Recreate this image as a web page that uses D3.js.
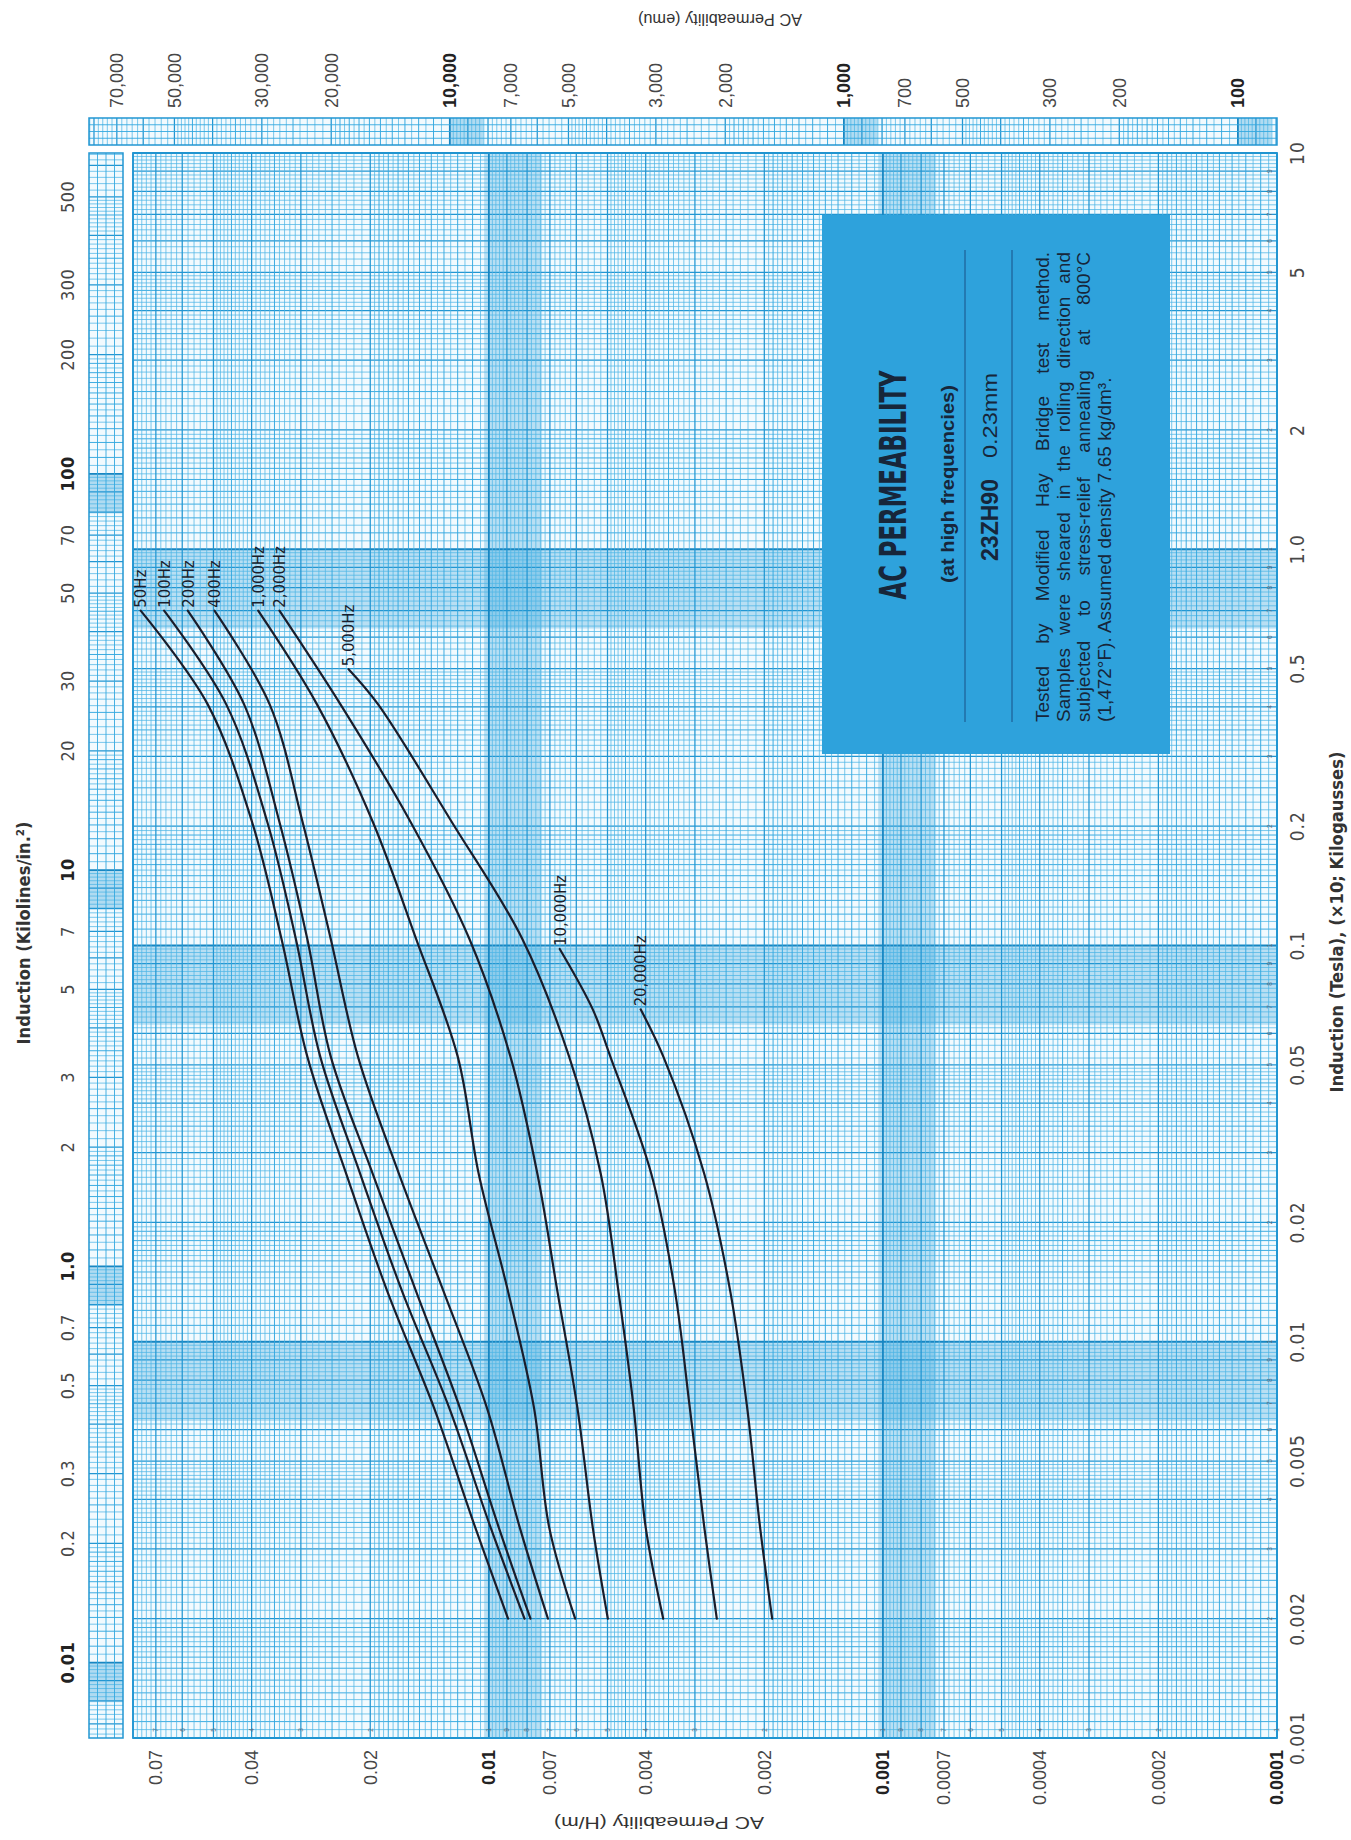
<!DOCTYPE html>
<html><head><meta charset="utf-8">
<script src="https://cdn.jsdelivr.net/npm/d3@7"></script>
<style>
html,body{margin:0;padding:0;background:#fff;}
svg{display:block;}
</style></head><body>
<svg id="c" width="1351" height="1840"></svg>
<script>
// ---------------- DATA ----------------
const teslaTicks = [0.001,0.002,0.005,0.01,0.02,0.05,0.1,0.2,0.5,1,2,5,10];
const teslaTickLabels = ["0.001","0.002","0.005","0.01","0.02","0.05","0.1","0.2","0.5","1.0","2","5","10"];
const permTicks = [0.07,0.04,0.02,0.01,0.007,0.004,0.002,0.001,0.0007,0.0004,0.0002,0.0001];
const permTickLabels = ["0.07","0.04","0.02","0.01","0.007","0.004","0.002","0.001","0.0007","0.0004","0.0002","0.0001"];
const emuTicks = [70000,50000,30000,20000,10000,7000,5000,3000,2000,1000,700,500,300,200,100];
const emuTickLabels = ["70,000","50,000","30,000","20,000","10,000","7,000","5,000","3,000","2,000","1,000","700","500","300","200","100"];
const kiloTicks = [0.1,0.2,0.3,0.5,0.7,1,2,3,5,7,10,20,30,50,70,100,200,300,500];
const kiloTickLabels = ["0.01","0.2","0.3","0.5","0.7","1.0","2","3","5","7","10","20","30","50","70","100","200","300","500"];

// Curves: induction (T) and AC permeability (H/m)
const t50    = [0.002,0.0034,0.0068,0.0134,0.0265,0.0525,0.104,0.205,0.406,0.70];
const mu50   = [0.00894,0.01083,0.01377,0.0181,0.0230,0.0289,0.0336,0.0399,0.0517,0.0765];
const t100   = [0.002,0.0034,0.0068,0.0134,0.0265,0.0525,0.104,0.205,0.406,0.70];
const mu100  = [0.00812,0.0099,0.0126,0.0166,0.0212,0.0268,0.0309,0.0365,0.0464,0.0667];
const t200   = [0.002,0.0034,0.0068,0.0134,0.0265,0.0525,0.104,0.205,0.406,0.70];
const mu200  = [0.00784,0.00944,0.01184,0.0153,0.0197,0.0252,0.0289,0.034,0.0418,0.0581];
const t400   = [0.002,0.0034,0.0068,0.0134,0.0265,0.0525,0.104,0.205,0.406,0.70];
const mu400  = [0.00708,0.00835,0.01011,0.01303,0.0169,0.0215,0.0252,0.0297,0.036,0.0497];
const t1000  = [0.002,0.0034,0.0068,0.0134,0.0265,0.0525,0.104,0.205,0.406,0.70];
const mu1000 = [0.00604,0.00703,0.00768,0.00894,0.01061,0.012,0.0153,0.0197,0.0273,0.0385];
const t2000  = [0.002,0.0034,0.0068,0.0134,0.0265,0.0525,0.104,0.205,0.406,0.70];
const mu2000 = [0.00499,0.00545,0.00596,0.0067,0.00753,0.00882,0.01121,0.0158,0.0238,0.034];
const t5000  = [0.002,0.0034,0.0068,0.0134,0.0265,0.0525,0.104,0.205,0.406,0.498];
const mu5000 = [0.00361,0.004,0.00429,0.00469,0.0052,0.00626,0.00823,0.01242,0.0191,0.0227];
const t10k   = [0.002,0.0034,0.0068,0.0134,0.0265,0.0525,0.069,0.098];
const mu10k  = [0.00264,0.00284,0.00309,0.00337,0.00387,0.00492,0.00545,0.00661];
const t20k   = [0.002,0.0034,0.0068,0.0134,0.0265,0.0525,0.069];
const mu20k  = [0.00191,0.00205,0.00221,0.00244,0.00284,0.00361,0.00412];
const seriesNames = ["50Hz","100Hz","200Hz","400Hz","1,000Hz","2,000Hz","5,000Hz","10,000Hz","20,000Hz"];
const seriesT  = [t50,t100,t200,t400,t1000,t2000,t5000,t10k,t20k];
const seriesMu = [mu50,mu100,mu200,mu400,mu1000,mu2000,mu5000,mu10k,mu20k];

const boxTitle = "AC PERMEABILITY";
const boxSub = "(at high frequencies)";
const boxGrade = "23ZH90";
const boxThick = "0.23mm";
const boxNotes = ["Tested by Modified Hay Bridge test method.",
  "Samples were sheared in the rolling direction and",
  "subjected to stress-relief annealing at 800°C",
  "(1,472°F). Assumed density 7.65 kg/dm³."];

// unit conversions
const EMU_PER_HM = 1/(4*Math.PI*1e-7);
const TESLA_PER_KILOLINE = 0.0155;

// ---------------- LAYOUT (chart drawn in its natural orientation, then turned) ----------------
const W = 1351, H = 1840;
const svg = d3.select('#c');
svg.append('rect').attr('width',W).attr('height',H).attr('fill','#fff');
const g = svg.append('g').attr('transform',`translate(0,${H}) rotate(-90)`);

const P = {x0:102, x1:1687, y0:133, y1:1277};
const xT = d3.scaleLog().domain([0.001,10]).range([P.x0,P.x1]);
const yP = d3.scaleLog().domain([0.0001,0.08]).range([P.y1,P.y0]);
const xK = d3.scaleLog().domain([0.001/TESLA_PER_KILOLINE,10/TESLA_PER_KILOLINE]).range([P.x0,P.x1]);
const KS = {y0:89, y1:123};
const ES = {x0:1695, x1:1722, y0:89, y1:1277};
const yE = d3.scaleLog().domain([0.0001*EMU_PER_HM, 0.1035*EMU_PER_HM]).range([ES.y1,ES.y0]);

function logLines(lo, hi){
  const out=[];
  const e0=Math.floor(Math.log10(lo))-1, e1=Math.ceil(Math.log10(hi));
  for(let e=e0;e<=e1;e++){
    const d=Math.pow(10,e);
    let m=1;
    while(m<9.999){
      const v=m*d;
      if(v>=lo*0.99999 && v<=hi*1.00001){
        let w;
        if(Math.abs(m-1)<1e-6) w=3;
        else if(Math.abs(m-Math.round(m))<1e-6) w=2;
        else if((m<2 && Math.abs(m*10-Math.round(m*10))<1e-6)||(m>=2&&m<5&&Math.abs(m*2-Math.round(m*2))<1e-6)) w=1;
        else w=0;
        out.push({v,w});
      }
      m=Math.round((m+(m<1.999?0.05:m<4.999?0.1:0.2))*100)/100;
    }
  }
  return out;
}
const GS=[{c:'#4fb5e5',w:0.75},{c:'#34a8df',w:0.95},{c:'#2296d2',w:1.25},{c:'#1786c2',w:1.8}];
const BAND='#259bd6';

// ---- main grid ----
const gm = g.append('g');
gm.append('rect').attr('x',P.x0).attr('y',P.y0).attr('width',P.x1-P.x0).attr('height',P.y1-P.y0).attr('fill','#f2fafe');
[0.01,0.1,1].forEach(d=>{
  gm.append('rect').attr('x',xT(d*Math.pow(10,-0.2))).attr('y',P.y0)
    .attr('width',xT(d)-xT(d*Math.pow(10,-0.2))).attr('height',P.y1-P.y0)
    .attr('fill',BAND).attr('opacity',0.28);
});
[0.01,0.001].forEach(d=>{
  gm.append('rect').attr('x',P.x0).attr('y',yP(d*Math.pow(10,0.012)))
    .attr('width',P.x1-P.x0).attr('height',yP(d*Math.pow(10,-0.135))-yP(d*Math.pow(10,0.012)))
    .attr('fill',BAND).attr('opacity',0.28);
});
logLines(0.001,10).forEach(l=>{
  gm.append('line').attr('x1',xT(l.v)).attr('x2',xT(l.v)).attr('y1',P.y0).attr('y2',P.y1)
    .attr('stroke',GS[l.w].c).attr('stroke-width',GS[l.w].w);
});
logLines(0.0001,0.08).forEach(l=>{
  gm.append('line').attr('y1',yP(l.v)).attr('y2',yP(l.v)).attr('x1',P.x0).attr('x2',P.x1)
    .attr('stroke',GS[l.w].c).attr('stroke-width',GS[l.w].w);
});
gm.append('rect').attr('x',P.x0).attr('y',P.y0).attr('width',P.x1-P.x0).attr('height',P.y1-P.y0)
  .attr('fill','none').attr('stroke','#2296d2').attr('stroke-width',1.8);

// tiny cycle digits inside the plot
const tinyFont = "'Liberation Sans',Arial,sans-serif";
[0.001,0.01,0.1,1].forEach(d=>{
  for(let m=1;m<=9;m++){
    const v=m*d; if(v<=0.001||v>=10) continue;
    g.append('text').attr('x',xT(v)).attr('y',1272).attr('text-anchor','middle')
      .attr('font-size',6.5).attr('font-family',tinyFont).attr('fill','#5a6a78').text(m);
  }
});
[0.0001,0.001,0.01].forEach(d=>{
  for(let m=1;m<=9;m++){
    const v=m*d; if(v>=0.08) continue;
    g.append('text').attr('x',110).attr('y',yP(v)).attr('dy','0.35em').attr('text-anchor','middle')
      .attr('font-size',6.5).attr('font-family',tinyFont).attr('fill','#5a6a78').text(m);
  }
});

// ---- kilolines strip ----
const gk = g.append('g');
gk.append('rect').attr('x',P.x0).attr('y',KS.y0).attr('width',P.x1-P.x0).attr('height',KS.y1-KS.y0).attr('fill','#f2fafe');
[0.1,1,10,100].forEach(k=>{
  gk.append('rect').attr('x',xK(k*Math.pow(10,-0.1))).attr('y',KS.y0)
    .attr('width',xK(k)-xK(k*Math.pow(10,-0.1))).attr('height',KS.y1-KS.y0)
    .attr('fill',BAND).attr('opacity',0.32);
});
logLines(xK.domain()[0],xK.domain()[1]).forEach(l=>{
  gk.append('line').attr('x1',xK(l.v)).attr('x2',xK(l.v)).attr('y1',KS.y0).attr('y2',KS.y1)
    .attr('stroke',GS[l.w].c).attr('stroke-width',GS[l.w].w);
});
[0.25,0.5,0.75].forEach(f=>{
  gk.append('line').attr('x1',P.x0).attr('x2',P.x1).attr('y1',KS.y0+f*(KS.y1-KS.y0)).attr('y2',KS.y0+f*(KS.y1-KS.y0))
    .attr('stroke',GS[1].c).attr('stroke-width',0.9);
});
gk.append('rect').attr('x',P.x0).attr('y',KS.y0).attr('width',P.x1-P.x0).attr('height',KS.y1-KS.y0)
  .attr('fill','none').attr('stroke','#2296d2').attr('stroke-width',1.5);

// ---- emu strip ----
const ge = g.append('g');
ge.append('rect').attr('x',ES.x0).attr('y',ES.y0).attr('width',ES.x1-ES.x0).attr('height',ES.y1-ES.y0).attr('fill','#f2fafe');
[10000,1000,100].forEach(e=>{
  ge.append('rect').attr('x',ES.x0).attr('y',yE(e)).attr('width',ES.x1-ES.x0)
    .attr('height',yE(e*Math.pow(10,-0.085))-yE(e)).attr('fill',BAND).attr('opacity',0.32);
});
logLines(yE.domain()[0],yE.domain()[1]).forEach(l=>{
  ge.append('line').attr('y1',yE(l.v)).attr('y2',yE(l.v)).attr('x1',ES.x0).attr('x2',ES.x1)
    .attr('stroke',GS[l.w].c).attr('stroke-width',GS[l.w].w);
});
[0.25,0.5,0.75].forEach(f=>{
  ge.append('line').attr('y1',ES.y0).attr('y2',ES.y1).attr('x1',ES.x0+f*(ES.x1-ES.x0)).attr('x2',ES.x0+f*(ES.x1-ES.x0))
    .attr('stroke',GS[1].c).attr('stroke-width',0.9);
});
ge.append('rect').attr('x',ES.x0).attr('y',ES.y0).attr('width',ES.x1-ES.x0).attr('height',ES.y1-ES.y0)
  .attr('fill','none').attr('stroke','#2296d2').attr('stroke-width',1.5);

// ---- axis labels ----
const geo = "'Liberation Sans Narrow','DejaVu Sans Condensed','Liberation Sans',sans-serif";
const helv = "'Liberation Sans',Arial,sans-serif";
const txtCol = '#474747';
teslaTicks.forEach((v,i)=>{
  g.append('text').attr('x',xT(v)).attr('y',1304).attr('text-anchor','middle')
    .attr('font-family',geo).attr('font-size',19).attr('letter-spacing',1).attr('fill',txtCol).text(teslaTickLabels[i]);
});
permTicks.forEach((v,i)=>{
  const dec = [0.01,0.001,0.0001].includes(v);
  g.append('text').attr('x',90).attr('y',yP(v)).attr('dy','0.35em').attr('text-anchor','end')
    .attr('font-family',helv).attr('font-size',18).attr('font-weight',dec?'bold':'normal')
    .attr('fill',dec?'#222':txtCol).text(permTickLabels[i]);
});
kiloTicks.forEach((v,i)=>{
  const dec=[0.1,1,10,100].includes(v);
  g.append('text').attr('x',xK(v)).attr('y',74).attr('text-anchor','middle')
    .attr('font-family',geo).attr('font-size',18).attr('letter-spacing',0.5).attr('font-weight',dec?'bold':'normal')
    .attr('fill',dec?'#222':txtCol).text(kiloTickLabels[i]);
});
emuTicks.forEach((v,i)=>{
  const dec=[10000,1000,100].includes(v);
  g.append('text').attr('x',1732).attr('y',yE(v)).attr('dy','0.35em').attr('text-anchor','start')
    .attr('font-family',helv).attr('font-size',18).attr('font-weight',dec?'bold':'normal')
    .attr('fill',dec?'#222':txtCol).text(emuTickLabels[i]);
});
// titles
g.append('text').attr('x',907).attr('y',30).attr('text-anchor','middle')
  .attr('font-family',geo).attr('font-size',18).attr('font-weight','bold').attr('fill','#333')
  .attr('textLength',223).attr('lengthAdjust','spacingAndGlyphs')
  .text('Induction (Kilolines/in.²)');
g.append('text').attr('x',918).attr('y',1343).attr('text-anchor','middle')
  .attr('font-family',geo).attr('font-size',18).attr('font-weight','bold').attr('fill','#333')
  .attr('textLength',341).attr('lengthAdjust','spacingAndGlyphs')
  .text('Induction (Tesla), (×10; Kilogausses)');
g.append('text').attr('transform','translate(23,659) rotate(-90)').attr('text-anchor','middle')
  .attr('font-family',helv).attr('font-size',17).attr('fill','#333')
  .attr('textLength',210).attr('lengthAdjust','spacingAndGlyphs').text('AC Permeability (H/m)');
g.append('text').attr('transform','translate(1826,720) rotate(-90)').attr('text-anchor','middle')
  .attr('font-family',helv).attr('font-size',16).attr('fill','#333')
  .attr('textLength',164).attr('lengthAdjust','spacingAndGlyphs').text('AC Permeability (emu)');

// ---- info box ----
const B = {x0:1086, x1:1625, y0:822, y1:1170};
const gb = g.append('g');
gb.append('rect').attr('x',B.x0).attr('y',B.y0).attr('width',B.x1-B.x0).attr('height',B.y1-B.y0).attr('fill','#2ea2dc');
const boxInk = '#17263a';
gb.append('text').attr('x',1355).attr('y',906).attr('text-anchor','middle')
  .attr('font-family',geo).attr('font-size',38).attr('font-weight','bold').attr('fill',boxInk)
  .attr('textLength',229).attr('lengthAdjust','spacingAndGlyphs').text(boxTitle);
gb.append('text').attr('x',1356).attr('y',954).attr('text-anchor','middle')
  .attr('font-family',helv).attr('font-size',17.5).attr('font-weight','bold').attr('fill',boxInk)
  .attr('textLength',198).attr('lengthAdjust','spacingAndGlyphs').text(boxSub);
gb.append('line').attr('x1',1118).attr('x2',1590).attr('y1',965).attr('y2',965).attr('stroke','#1d5f95').attr('stroke-width',1.2);
gb.append('text').attr('x',1279).attr('y',998).attr('font-family',helv).attr('font-size',24).attr('font-weight','bold')
  .attr('fill',boxInk).attr('textLength',82).attr('lengthAdjust','spacingAndGlyphs').text(boxGrade);
gb.append('text').attr('x',1382).attr('y',997).attr('font-family',helv).attr('font-size',20)
  .attr('fill',boxInk).attr('textLength',85).attr('lengthAdjust','spacingAndGlyphs').text(boxThick);
gb.append('line').attr('x1',1118).attr('x2',1590).attr('y1',1012).attr('y2',1012).attr('stroke','#1d5f95').attr('stroke-width',1.2);
// justified note lines (word spacing)
const noteW = 470;
let noteFs = 19;
const probe = gb.append('text').attr('font-family',helv).attr('font-size',noteFs);
let maxNat = 0;
boxNotes.slice(0,3).forEach(s=>{probe.text(s); maxNat=Math.max(maxNat, probe.node().getComputedTextLength());});
if(maxNat>noteW*0.97) noteFs = noteFs*noteW*0.97/maxNat;
probe.remove();
boxNotes.forEach((s,i)=>{
  const t = gb.append('text').attr('x',1118).attr('y',1049+i*20.5).attr('font-family',helv).attr('font-size',noteFs)
    .attr('fill',boxInk).text(s);
  if(i<3){
    const nat = t.node().getComputedTextLength();
    const spaces = (s.match(/ /g)||[]).length;
    t.attr('word-spacing', (noteW-nat)/spaces);
  }
});

// ---- curves ----
const line = d3.line().x(d=>xT(d[0])).y(d=>yP(d[1])).curve(d3.curveCatmullRom.alpha(0.5));
seriesNames.forEach((name,i)=>{
  const pts = seriesT[i].map((t,j)=>[t,seriesMu[i][j]]);
  g.append('path').attr('d',line(pts)).attr('fill','none').attr('stroke','#1a1d2b').attr('stroke-width',2.2)
    .attr('stroke-linecap','round');
  const last = pts[pts.length-1];
  g.append('text').attr('x',xT(last[0])+3).attr('y',yP(last[1])).attr('dy','0.35em')
    .attr('font-family',geo).attr('font-size',16.5).attr('fill','#1a1d2b').text(name);
});
</script>
</body></html>
